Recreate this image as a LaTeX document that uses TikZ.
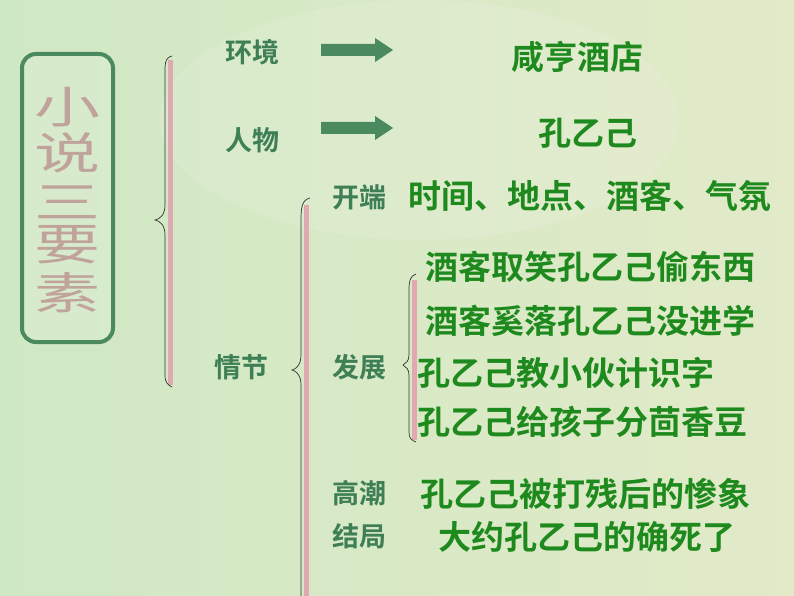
\documentclass[tikz,border=0pt]{standalone}
\usepackage{fontspec}
\newfontfamily\cjk{Noto Sans CJK SC Bold}
\newfontfamily\cjkl{Noto Sans CJK SC}
\definecolor{bgA}{HTML}{CFE8C4}
\definecolor{bgB}{HTML}{E2EAC8}
\definecolor{lab}{HTML}{3F7F55}
\definecolor{txt}{HTML}{1E8A1E}
\definecolor{pinkbar}{HTML}{E0A8B0}
\definecolor{boxc}{HTML}{4A8A5E}
\definecolor{vert}{HTML}{C0A49C}
\tikzset{
 lbl/.style={font=\cjk\fontsize{27}{27}\selectfont, text=lab, inner sep=0pt},
 body/.style={font=\cjk\fontsize{33}{33}\selectfont, text=txt, inner sep=0pt},
 vt/.style={font=\cjkl\fontsize{44}{44}\selectfont, text=vert, inner sep=0pt, xscale=1.5},
 blk/.style={fill=boxc},
 bar/.style={pinkbar, line width=5pt},
 brc/.style={black!80, line width=0.7pt}
}
\begin{document}
\begin{tikzpicture}[x=1pt,y=-1pt]
\useasboundingbox (0,0) rectangle (794,596);
\shade[left color=bgA, right color=bgB] (0,0) rectangle (794,596);
\fill[white, opacity=0.12] (420,120) ellipse (260 and 120);
% box
\draw[boxc, line width=4pt, rounded corners=14pt, fill=white, fill opacity=0.15] (22,54) rectangle (113,342);
\node[vt] (v1) at (67,107) {小};
\node[vt] (v2) at (67,153) {说};
\node[vt] (v3) at (67,202) {三};
\node[vt] (v4) at (67,245) {要};
\node[vt] (v5) at (67,293) {素};
% brace 1
\draw[bar] (170,60) -- (170,385);
\draw[brc] (172,56) .. controls (164,58) and (165,65) .. (165,80) -- (165,205) .. controls (165,215) and (160,219) .. (155,220) .. controls (160,221) and (165,225) .. (165,235) -- (165,375) .. controls (165,383) and (168,385) .. (172,387);
% brace 2
\draw[bar] (306,205) -- (306,596);
\draw[brc] (310,198) .. controls (302,200) and (301,207) .. (301,220) -- (301,355) .. controls (301,365) and (296,369) .. (292,370) .. controls (296,371) and (301,375) .. (301,385) -- (301,596);
% brace 3
\draw[bar] (414,280) -- (414,440);
\draw[brc] (416,274) .. controls (410,276) and (409,281) .. (409,290) -- (409,355) .. controls (409,361) and (406,363) .. (403,365) .. controls (406,367) and (409,369) .. (409,375) -- (409,432) .. controls (409,438) and (411,440) .. (416,442);
% labels
\node[lbl] (hj) at (252,52) {环境};
\node[lbl] (rw) at (252,140) {人物};
\node[lbl] (kd) at (359,197) {开端};
\node[lbl] (qj) at (241,367) {情节};
\node[lbl] (fz) at (359,367) {发展};
\node[lbl] (gc) at (359,493) {高潮};
\node[lbl] (jj) at (359,536) {结局};
% arrows
\fill[blk] (321,44) -- (375,44) -- (375,38) -- (393,50) -- (375,62) -- (375,56) -- (321,56) -- cycle;
\fill[blk] (321,122) -- (375,122) -- (375,116) -- (393,128) -- (375,140) -- (375,134) -- (321,134) -- cycle;
% body
\node[body] (t1) at (577,57) {咸亨酒店};
\node[body] (t2) at (588,133) {孔乙己};
\node[body,anchor=west] (t3) at (408,196) {时间、地点、酒客、气氛};
\node[body,anchor=west] (t4) at (425,267) {酒客取笑孔乙己偷东西};
\node[body,anchor=west] (t5) at (425,321) {酒客奚落孔乙己没进学};
\node[body,anchor=west] (t6) at (417,373) {孔乙己教小伙计识字};
\node[body,anchor=west] (t7) at (417,422) {孔乙己给孩子分茴香豆};
\node[body,anchor=west] (t8) at (420,494) {孔乙己被打残后的惨象};
\node[body,anchor=west] (t9) at (438,537) {大约孔乙己的确死了};
\end{tikzpicture}
\end{document}
